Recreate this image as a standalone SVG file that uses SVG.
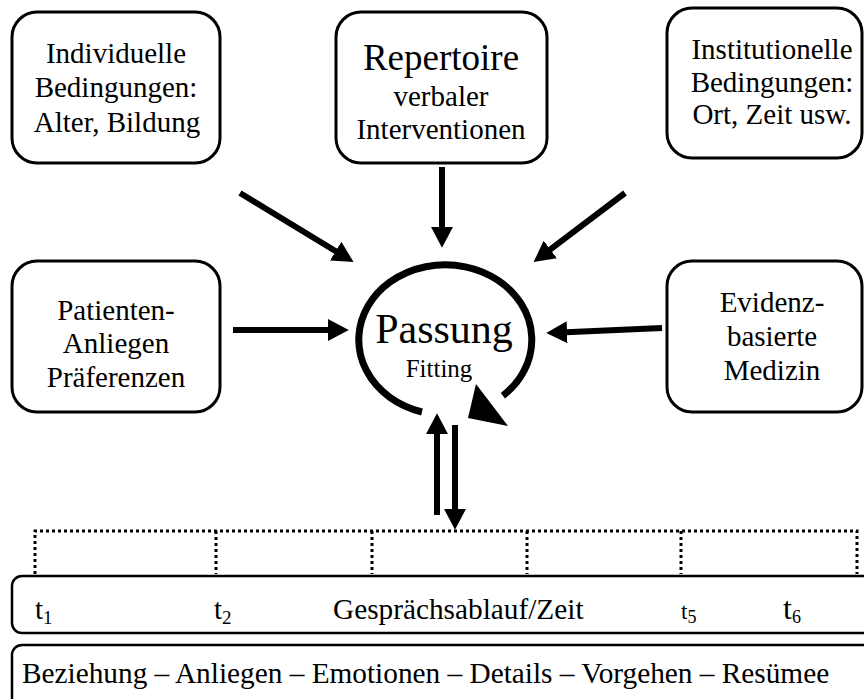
<svg xmlns="http://www.w3.org/2000/svg" width="864" height="699" viewBox="0 0 864 699">
<style>
.box{fill:#fff;stroke:#000;stroke-width:3}
.row{fill:#fff;stroke:#000;stroke-width:2.5}
.t{font-family:"Liberation Serif","Times New Roman",serif;fill:#000;font-size:29px}
.c{text-anchor:middle}
.arr{stroke:#000;stroke-width:6;fill:none;marker-end:url(#ah)}
.dot{stroke:#000;stroke-width:3;stroke-dasharray:3 3;fill:none}
</style>
<defs>
<marker id="ah" markerUnits="userSpaceOnUse" markerWidth="22" markerHeight="22" refX="1" refY="10" orient="auto" viewBox="0 0 20 20">
<path d="M0,0 L19,10 L0,20 z" fill="#000"/>
</marker>
</defs>
<rect width="864" height="699" fill="#fff"/>
<g id="connectors">
<line class="arr" x1="240" y1="193" x2="336.6" y2="251.7"/>
<line class="arr" x1="442" y1="167" x2="442" y2="228"/>
<line class="arr" x1="625" y1="193" x2="549.4" y2="250.1"/>
<line class="arr" x1="233" y1="330" x2="329" y2="330"/>
<line class="arr" x1="662" y1="328" x2="566" y2="332.2"/>
<line class="arr" x1="437" y1="515" x2="437" y2="433"/>
<line class="arr" x1="455" y1="425" x2="455" y2="510"/>
</g>
<g id="dotted-grid">
<path class="dot" d="M35,574 V531 H857 V574"/>
<path class="dot" d="M216,531 V574 M372,531 V574 M527,531 V574 M681,531 V574"/>
</g>
<g id="node-individuell">
<rect class="box" x="12" y="12" width="208" height="151" rx="25"/>
<text class="t c" x="116" y="63">Individuelle</text>
<text class="t c" x="116" y="97">Bedingungen:</text>
<text class="t c" x="117" y="132">Alter, Bildung</text>
</g>
<g id="node-repertoire">
<rect class="box" x="336" y="12" width="211" height="151" rx="25"/>
<text class="t c" x="441" y="70" style="font-size:37px">Repertoire</text>
<text class="t c" x="441" y="106">verbaler</text>
<text class="t c" x="441" y="139">Interventionen</text>
</g>
<g id="node-institutionell">
<rect class="box" x="667" y="8" width="195" height="150" rx="25"/>
<text class="t c" x="772" y="59">Institutionelle</text>
<text class="t c" x="772" y="92">Bedingungen:</text>
<text class="t c" x="772" y="124">Ort, Zeit usw.</text>
</g>
<g id="node-patienten">
<rect class="box" x="12" y="261" width="208" height="151" rx="25"/>
<text class="t c" x="116" y="320">Patienten-</text>
<text class="t c" x="116" y="353">Anliegen</text>
<text class="t c" x="116" y="387">Präferenzen</text>
</g>
<g id="node-evidenz">
<rect class="box" x="667" y="261" width="195" height="151" rx="25"/>
<text class="t c" x="772" y="312">Evidenz-</text>
<text class="t c" x="772" y="346">basierte</text>
<text class="t c" x="772" y="380">Medizin</text>
</g>
<g id="node-passung">
<path d="M422,412 A86.5 75 0 1 1 502.9,395.7" fill="none" stroke="#000" stroke-width="7"/>
<polygon points="476,384 508,426 468,418" fill="#000"/>
<text class="t c" x="444" y="343" style="font-size:42px">Passung</text>
<text class="t c" x="439" y="377" style="font-size:25px">Fitting</text>
</g>
<g id="node-zeit">
<rect class="row" x="12" y="576" width="870" height="57" rx="10"/>
<text class="t" x="35" y="619">t<tspan style="font-size:19px" dy="5">1</tspan></text>
<text class="t" x="214" y="619">t<tspan style="font-size:19px" dy="5">2</tspan></text>
<text class="t" x="333" y="619" style="font-size:29.3px">Gesprächsablauf/Zeit</text>
<text class="t" x="681" y="619" style="font-size:23px">t<tspan style="font-size:18px" dy="4">5</tspan></text>
<text class="t" x="783" y="619" style="font-size:32px">t<tspan style="font-size:18px" dy="4">6</tspan></text>
</g>
<g id="node-phasen">
<rect class="row" x="12" y="645" width="870" height="80" rx="10"/>
<text class="t" x="22" y="683" style="font-size:29.3px">Beziehung – Anliegen – Emotionen – Details – Vorgehen – Resümee</text>
</g>
</svg>
